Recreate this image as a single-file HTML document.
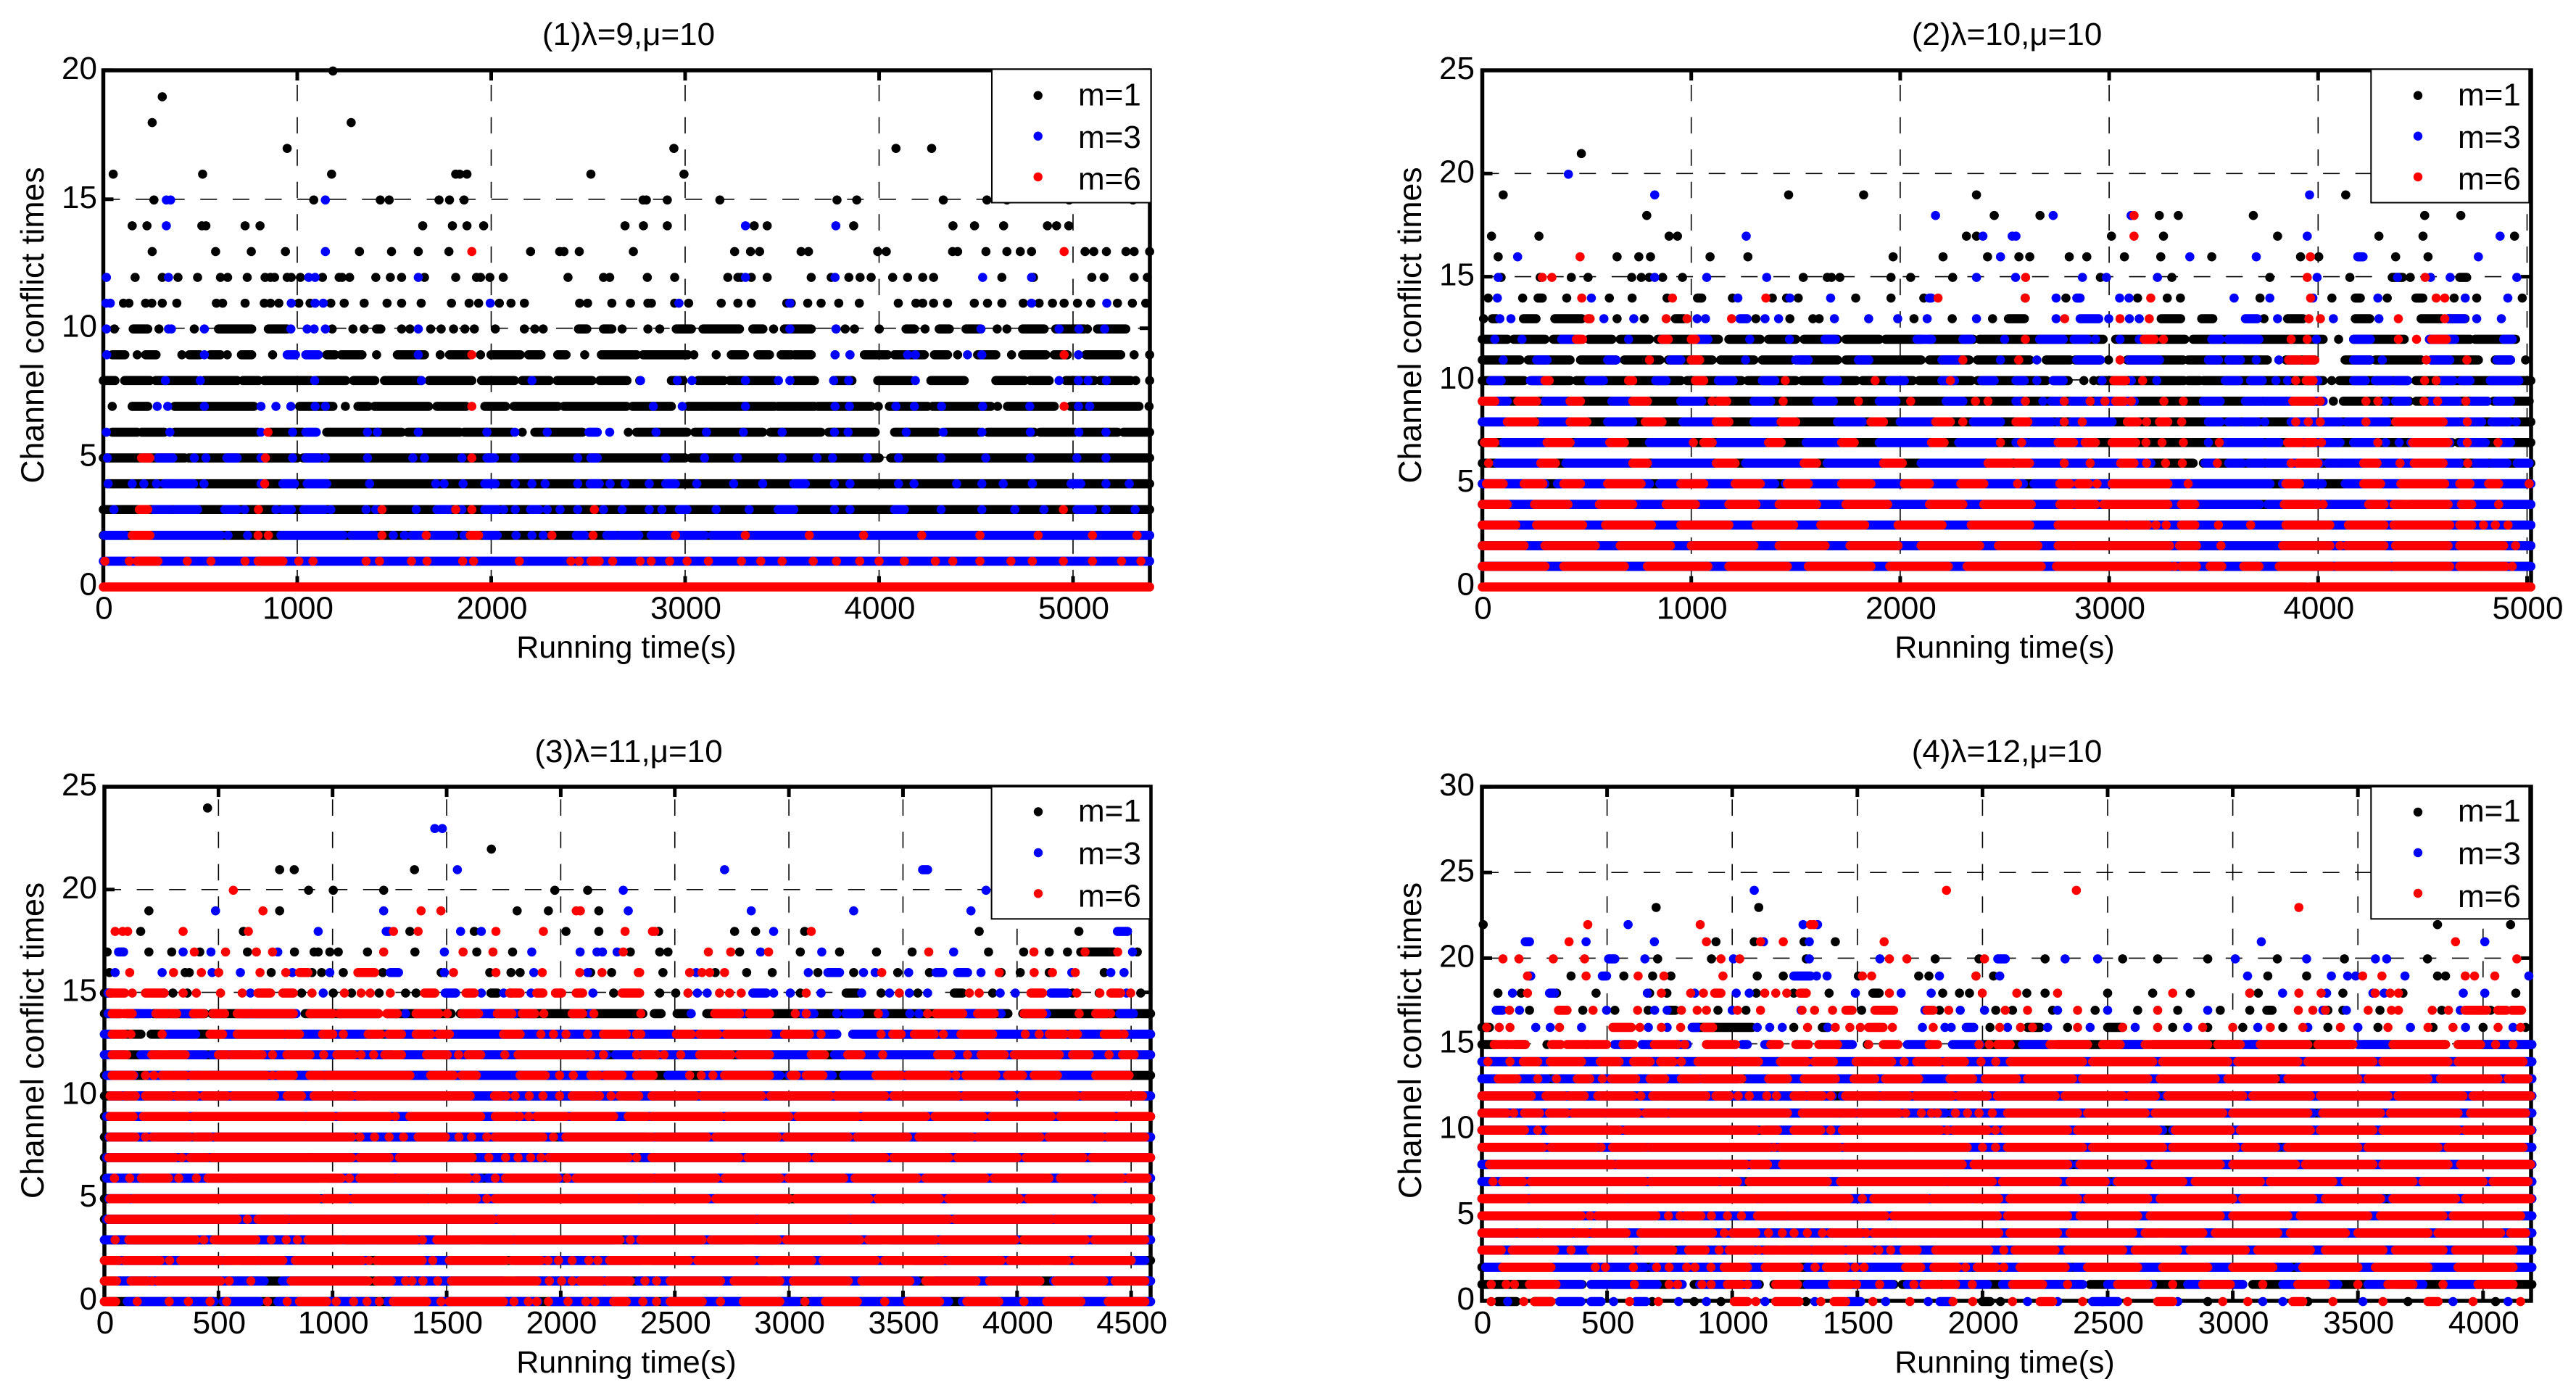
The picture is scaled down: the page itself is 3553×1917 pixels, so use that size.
<!DOCTYPE html>
<html lang="en">
<head>
<meta charset="utf-8">
<title>Channel conflict times</title>
<style>
html,body{margin:0;padding:0;background:#fff;}
svg{display:block;}
text{font-family:"Liberation Sans","DejaVu Sans",sans-serif;font-size:44px;fill:#000;}
</style>
</head>
<body>
<svg id="figure" xmlns="http://www.w3.org/2000/svg" width="3553" height="1917" viewBox="0 0 3553 1917">
<rect x="0" y="0" width="3553" height="1917" fill="#fff"/>

<g id="panel1">
  <g id="panel1-axes"></g>
  <g id="panel1-marks"></g>
  <text x="867" y="62" text-anchor="middle">(1)λ=9,μ=10</text>
  <text x="864" y="907" text-anchor="middle" style="font-size:43px">Running time(s)</text>
  <text transform="translate(60 448.5) rotate(-90)" text-anchor="middle" style="font-size:44.6px">Channel conflict times</text>
  <g>
    <rect x="1368" y="95.5" width="219.5" height="184" fill="#fff" stroke="#000" stroke-width="2"/>
    <circle cx="1431.7" cy="131.7" r="6.2" fill="#000"/>
    <text x="1487" y="145.7">m=1</text>
    <circle cx="1431.7" cy="187.7" r="6.2" fill="#00f"/>
    <text x="1487" y="204">m=3</text>
    <circle cx="1431.7" cy="244" r="6.2" fill="#f00"/>
    <text x="1487" y="261.7">m=6</text>
  </g>
</g>

<g id="panel2">
  <g id="panel2-axes"></g>
  <g id="panel2-marks"></g>
  <text x="2768" y="62" text-anchor="middle">(2)λ=10,μ=10</text>
  <text x="2765" y="907" text-anchor="middle" style="font-size:43px">Running time(s)</text>
  <text transform="translate(1960 448.5) rotate(-90)" text-anchor="middle" style="font-size:44.6px">Channel conflict times</text>
  <g>
    <rect x="3270.3" y="95.5" width="218" height="184" fill="#fff" stroke="#000" stroke-width="2"/>
    <circle cx="3335" cy="131.7" r="6.2" fill="#000"/>
    <text x="3390" y="145.7">m=1</text>
    <circle cx="3335" cy="187.7" r="6.2" fill="#00f"/>
    <text x="3390" y="204">m=3</text>
    <circle cx="3335" cy="244" r="6.2" fill="#f00"/>
    <text x="3390" y="261.7">m=6</text>
  </g>
</g>

<g id="panel3">
  <g id="panel3-axes"></g>
  <g id="panel3-marks"></g>
  <text x="867" y="1051" text-anchor="middle">(3)λ=11,μ=10</text>
  <text x="864" y="1893" text-anchor="middle" style="font-size:43px">Running time(s)</text>
  <text transform="translate(60 1435) rotate(-90)" text-anchor="middle" style="font-size:44.6px">Channel conflict times</text>
  <g>
    <rect x="1367.6" y="1085" width="218.6" height="182.3" fill="#fff" stroke="#000" stroke-width="2"/>
    <circle cx="1432" cy="1119.5" r="6.2" fill="#000"/>
    <text x="1487" y="1133">m=1</text>
    <circle cx="1432" cy="1176" r="6.2" fill="#00f"/>
    <text x="1487" y="1192">m=3</text>
    <circle cx="1432" cy="1232.3" r="6.2" fill="#f00"/>
    <text x="1487" y="1250.7">m=6</text>
  </g>
</g>

<g id="panel4">
  <g id="panel4-axes"></g>
  <g id="panel4-marks"></g>
  <text x="2768" y="1051" text-anchor="middle">(4)λ=12,μ=10</text>
  <text x="2765" y="1893" text-anchor="middle" style="font-size:43px">Running time(s)</text>
  <text transform="translate(1960 1435) rotate(-90)" text-anchor="middle" style="font-size:44.6px">Channel conflict times</text>
  <g>
    <rect x="3270.3" y="1085" width="218" height="182.3" fill="#fff" stroke="#000" stroke-width="2"/>
    <circle cx="3335" cy="1120" r="6.2" fill="#000"/>
    <text x="3390" y="1133">m=1</text>
    <circle cx="3335" cy="1176" r="6.2" fill="#00f"/>
    <text x="3390" y="1192">m=3</text>
    <circle cx="3335" cy="1232" r="6.2" fill="#f00"/>
    <text x="3390" y="1251">m=6</text>
  </g>
</g>
</svg>

<script>
/* Row format: [conflict count, [running times]]. A number is one point;
   a pair [from, to] is a stretch of time where the points overlap solidly. */

const p1XTicks = [0,1000,2000,3000,4000,5000];
const p1YTicks = [0,5,10,15,20];
const p2XTicks = [0,1000,2000,3000,4000,5000];
const p2YTicks = [0,5,10,15,20,25];
const p3XTicks = [0,500,1000,1500,2000,2500,3000,3500,4000,4500];
const p3YTicks = [0,5,10,15,20,25];
const p4XTicks = [0,500,1000,1500,2000,2500,3000,3500,4000];
const p4YTicks = [0,5,10,15,20,25,30];

const p1M1 = [
[20,[1184]],[19,[304]],[18,[252,1278]],[17,[948,2942,4087,4271]],
[16,[51,512,1177,1817,1838,1875,2514,2994]],
[15,[261,1085,1428,1474,1731,1785,1860,2783,2800,2908,3179,3783,3885,4331,4556,4659,4980,5309]],
[14,[149,225,508,529,731,808,1647,1800,1875,1961,2690,2785,2908,3356,3423,3869,4381,4492,4642,4868,4915,4978]],
[13,[252,579,763,939,1321,1486,1624,1782,2203,2353,2375,2454,2733,3255,3337,3384,3598,3636,3993,4037,4379,4405,4551,4659,4728,4786,5062,5107,5172,5273,5315,5395]],
[12,[164,304,385,486,604,641,742,834,862,883,948,969,1016,1130,1216,1231,1270,1405,1480,1538,1656,1817,1924,1945,1993,2062,2396,2579,2611,2805,2946,3220,3272,3289,3341,3423,3650,3753,3844,3902,3959,4070,4147,4225,4281,4633,4796,5097,5160,5315,5383]],
[11,[104,132,218,250,304,379,583,615,731,830,862,905,1008,1066,1173,1242,1345,1463,1538,1639,1795,1886,1935,2042,2102,2171,2456,2497,2622,2718,2808,2826,2946,3018,3186,3272,3341,3524,3547,3632,3701,3792,3898,4099,4190,4225,4281,4353,4491,4559,4633,4743,4825,4894,4954,5023,5091,5229,5306,5375]],
[10,[57,[154,229],287,469,[594,765],[851,948],1180,1287,1345,[1409,1431],1538,1581,1688,1742,1806,1864,1913,2021,2171,2225,2268,[2450,2493],[2579,2622],2675,2808,2869,[2954,3032],[3092,3280],[3349,3401],3456,[3512,3650],3778,3825,3873,4001,[4139,4182],4237,[4310,4362],[4448,4525],4609,4659,[4740,4851],[4911,5057],5074,[5126,5272]]],
[9,[[46,111],175,[218,272],405,[443,497],[551,604],639,[712,765],873,[1152,1195],[1227,1334],1409,[1516,1656],1737,[1785,1892],1945,[1999,2150],[2192,2257],[2343,2386],2482,[2568,2750],[2783,3014],3045,3160,[3238,3306],[3375,3435],[3495,3547],[3564,3650],3773,3850,[3924,4044],[4079,4233],[4285,4353],4405,[4508,4602],4683,[4740,4860],[4903,4971],[5066,5246],5315,5395]],
[8,[[0,60],[110,240],[270,480],[520,690],[720,800],[830,1070],[1100,1250],[1290,1400],[1450,1640],[1680,1900],[1950,2120],[2160,2300],[2340,2520],[2560,2700],2766,[2929,2989],[3066,3200],[3230,3461],[3564,3667],[3766,3860],[3993,4164],[4267,4439],[4602,4750],[4780,4877],[4963,5110],[5140,5297],5323,5395]],
[7,[46,[149,229],[368,776],[1012,1184],1248,[1313,1366],[1398,1677],[1720,1870],[1967,2074],[2117,2343],[2375,2697],[2729,2929],[3014,3117],[3126,3461],[3478,3572],[3581,3667],[3684,3959],3996,[4053,4250],[4276,4473],[4482,4576],4611,[4662,4903],[4988,5229],[5237,5340],5392]],
[6,[[46,175],[197,315],[368,798],[860,1030],[1152,1538],[1570,1838],[1860,2107],2160,[2225,2471],2707,[2750,3010],[3050,3400],[3440,3700],[3740,3980],[4080,4300],[4340,4520],[4560,4800],[4830,5010],[5040,5230],[5260,5395]]],
[5,[[0,420],[440,1000],[1030,2000],[2030,3000],[3030,4000],[4060,5395]]],
[4,[[20,5395]]],
[3,[[0,5395]]],
[2,[[0,5395]]]
];
const p1M3 = [
[15,[325,347,1145]],[14,[325,3311,3777]],[13,[1145]],
[12,[16,336,1059,1092,1624,3311,3773,4534,4786]],
[11,[14,36,969,1092,1134,1995,2968,3540,4786,5174]],
[10,[16,336,351,521,967,1051,1087,1145,1624,3540,3778,4525,4928,5031,5163]],
[9,[18,521,[948,991],[1044,1109],1624,3773,3850,4147,4187,4456,4530,5028]],
[8,[320,500,1090,1640,2210,2770,2960,3035,3311,3481,3540,3766,3843,4187,4928,5028,5078,5172]],
[7,[278,332,521,813,890,967,1092,1145,2836,2985,3311,3773,3847,4087,4182,4322,4534,4777,5028,5086]],
[6,[16,343,813,976,[1044,1098],1362,1413,1624,1978,2122,2289,[2504,2547],2611,2850,3110,3300,3500,3770,3840,4140,4330,4530,4780,5030,5170]],
[5,[21,[282,358],469,529,[637,690],813,976,[1044,1109],1145,1362,1596,1656,1849,[1978,2016],2122,2446,[2514,2547],2900,3100,3270,3500,3680,3760,3940,4100,4320,4550,4780,5020,5170]],
[4,[25,149,209,274,[315,379],[390,465],519,813,[926,986],[1051,1152],1373,1714,1757,1855,[1967,2021],2124,2210,2278,2446,[2510,2557],2613,2690,2815,[2900,2950],3060,3250,3400,[3560,3620],3770,3850,4100,4180,4400,4530,4640,4790,[4990,5040],5170,5290]],
[3,[55,[261,347],[368,486],[626,690],729,890,[926,969],[1034,1141],1173,1355,1405,1613,[1720,1785],1849,[1967,2031],2064,2124,[2203,2246],2289,2355,2446,2579,2675,2815,2880,[2970,3010],3160,3330,[3480,3560],3770,3850,[4080,4130],4320,4530,4700,4850,[5020,5100],5170,5320]],
[2,[[4,111],[240,604],643,744,[916,1237],[1280,1398],1495,1553,[1592,1645],[1699,1806],1860,[1967,2031],2128,2210,2268,[2439,2482],[2596,2643],[2665,2761],[2825,3100],[3140,3300],[3340,3620],[3660,3900],[3940,4200],[4240,4500],[4540,4800],[4840,5395]]],
[1,[[0,5395]]]
];
const p1M6 = [
[13,[1900,4954]],[9,[1900,4954]],[7,[1900,4954]],[6,[849]],
[5,[[197,240],836,1900]],[4,[832]],
[3,[[186,229],800,1437,1817,1900,2532,4950]],
[2,[[149,240],798,851,1437,1665,[1892,1935],2313,2525,2950,3310,3640,3920,4220,4520,4820,5100,5330]],
[1,[8,134,[175,282],433,555,731,[798,926],1008,1081,1355,1424,1589,1669,1853,1909,2145,2411,2454,[2514,2557],2626,2768,2825,2920,3010,3120,3290,3390,3500,3660,3780,3900,4000,4130,4290,4380,4520,4680,4790,4950,5100,5250,5350]],
[0,[[0,5395]]]
];

const p2M1 = [
[21,[474]],[19,[100,1466,1825,2365,4132]],[18,[787,2450,2669,3331,3690,4510,4683,3240]],
[17,[44,271,894,934,2317,2365,3011,3260,3806,4291,4502,4940]],
[16,[76,645,749,805,1090,1271,1966,2205,2418,2568,2620,2809,2893,3073,3247,3491,3916,4003,4371,4526]],
[15,[90,277,426,506,715,761,799,863,958,1536,1651,1671,1711,1956,2050,2251,2958,3300,3769,4152,[4355,4404],4441,[4678,4711]]],
[14,[28,193,[267,287],404,608,717,884,[1030,1050],1197,1388,1456,1512,1787,1956,2113,2598,2793,3136,3278,3341,3722,4066,[4178,4202],4331,[4468,4501],4651,4759,4977]],
[13,[6,[48,68],[197,257],[347,476],645,775,[924,964],1309,1472,1582,1612,2066,2249,2442,[2518,2594],[3249,3342],[3443,3496],3741,[3854,3927],[4178,4247],[4493,4590],[4622,4703]]],
[12,[[0,120],[150,300],[340,470],[510,620],[660,800],[840,1130],[1180,1330],[1370,1500],[1540,1700],[1740,1900],[1930,2100],[2140,2350],[2380,2971],[3031,3362],[3402,4024],4098,[4170,4412],[4533,4727],[4751,4945]]],
[11,[[0,180],[220,420],[470,640],[680,850],[890,1100],[1140,1300],[1340,1480],[1520,1700],[1740,2100],[2140,2330],[2370,2620],[2699,2812],[2837,2958],2997,[3087,3354],[3378,3757],[3846,3984],[4129,4250],[4274,4493],[4541,4767],[4848,4921],4993]],
[10,[[0,200],[240,420],[450,700],[730,950],[980,1240],[1270,1500],[1530,1790],[1820,2060],[2090,2340],[2370,2699],[2732,2804],2879,2926,[2950,3358],[3378,3434],[3451,4024],4065,[4102,4428],[4468,5018]]],
[9,[[0,4024],4073,[4121,4436],[4470,4810],[4840,5010]]],
[8,[[0,5018]]],
[7,[[0,3960],[3990,4640],[4670,5018]]],
[6,[[0,3402],[3451,5018]]],
[5,[[0,5018]]],[4,[[0,5018]]],[3,[[0,5018]]],[2,[[0,5018]]],[1,[[0,5018]]]
];
const p2M3 = [
[20,[412]],[19,[825,3959]],[18,[2169,2732,3105]],
[17,[1263,2396,2536,2554,3948,4871]],
[16,[169,2480,3386,3704,[4190,4215],4767]],
[15,[76,825,1074,1361,2365,2552,2872,2987,3231,3995,4380,4538,4632,4951]],
[14,[72,522,1223,1472,1667,[2139,2149],2746,[2845,2861],3050,3095,3598,3769,3975,4286,4704,4908]],
[13,[84,137,582,725,1028,1068,[1233,1267],1353,1418,1685,1849,1988,2129,2365,2746,[2861,2950],2998,3097,3144,[3652,3709],3806,4073,4291,[4622,4700],4759,4877]],
[12,[60,190,[380,430],700,860,[1030,1080],1280,1470,[1640,1690],[2080,2150],[2300,2340],2500,[2667,2780],[2832,2896],2935,3052,3144,[3491,3531],[3572,3628],[3644,3717],3992,[4170,4250],[4533,4654],[4888,4929]]],
[11,[100,[260,310],[600,640],[900,950],1260,[1500,1560],[1800,1850],[2200,2280],2480,2654,[2845,2958],[3095,3241],[3475,3523],[3572,3628],3704,3812,[4170,4247],4307,[4541,4630],[4856,4921]]],
[10,[[40,90],[230,280],[510,580],[830,880],[1130,1200],[1340,1400],[1650,1700],[1950,2020],[2200,2260],[2390,2450],[2554,2594],2654,[2732,2780],2966,3106,3228,[3556,3620],[3677,3733],3798,3854,3999,[4170,4226],[4274,4347],[4371,4428],[4593,4646],[4686,4727],[4824,4961]]],
[9,[[60,120],[300,400],[620,700],[950,1050],[1300,1380],[1600,1680],[1900,1980],[2220,2300],[2554,2575],2683,[2724,2772],[2820,2901],[2940,3120],[3451,3531],[3652,3725],[3741,3871],[3976,4024],4323,[4371,4428],[4541,4670],[4735,4808],[4856,4921]]],
[8,[[0,110],[280,400],[600,720],[960,1100],[1300,1400],[1700,1820],[2000,2150],[2350,2480],[2635,2724],2754,[2821,3014],[3475,3531],[3572,3620],[3644,3709],3745,[3871,4105],[4137,4331],[4606,4670],[4694,4783],[4832,4912],4948]],
[7,[[100,300],[450,600],[800,1000],[1130,1350],[1550,1700],[1900,2130],[2280,2450],[2554,2602],[2627,2716],[2740,2934],3475,[3556,3733],[3757,3814],[3927,4105],[4170,4266],4323,4388,[4444,4630],[4686,4800],[4864,4921]]],
[6,[[70,270],[400,700],[820,1100],[1260,1530],[1650,1900],[2100,2400],[2627,2764],[2796,2893],[2934,3200],[3459,3499],[3572,3636],[3669,3733],[3757,4008],[4048,4105],[4121,4428],[4444,4678],[4751,4808],[4832,4904],[4953,5010]]],
[5,[[0,300],[360,800],[850,1400],[1450,2000],[2060,2590],[2640,3770],[3830,3900],[3940,4020],[4130,5018]]],
[4,[[0,3720],[3760,4400],[4440,5018]]],
[3,[[0,5018]]],[2,[[0,5018]]],[1,[[0,5018]]]
];
const p2M6 = [
[18,[3119]],[17,[3119]],[16,[468,3963]],
[15,[287,333,2600,3948,4512]],
[14,[476,910,1357,2181,2599,3199,3964,4565,4606]],
[13,[[506,516],880,980,1193,2787,3052,3192,3956,4011,4384,4606]],
[12,[[450,480],[860,890],[1000,1020],2599,[3168,3216],3260,3871,3948,4384,4471,[4544,4614]]],
[11,[800,[1000,1040],2300,2567,3052,[3859,3911],[3935,3984],4518,4712]],
[10,[[300,320],[700,720],[1020,1060],1450,1880,2240,[3022,3079],3160,3893,[3943,3976],4510,4565]],
[9,[[0,60],[170,260],[420,470],[720,790],1100,[1130,1170],1440,1800,2050,2360,2420,2599,2785,2909,2980,[3031,3071],3106,3262,3355,[3879,3976],4010,4229,4286,4507,4572,4707]],
[8,[[120,250],[420,500],[780,860],[1120,1180],[1430,1500],[1860,1920],[2170,2240],2300,[2554,2611],2785,2871,[3087,3136],3179,[3241,3281],3347,3893,3953,4010,4229,[4371,4598],4714]],
[7,[[10,60],[310,420],[610,680],1010,[1060,1100],[1370,1430],[1720,1780],[2150,2210],2480,2581,[2756,2829],[2885,2934],[3014,3127],3176,3253,3355,3527,[3854,3919],[3943,3984],4016,4286,[4452,4622],4714,4861]],
[6,[30,[280,350],[720,790],[1120,1210],[1540,1600],[1920,2010],[2420,2530],[2554,2619],2785,2909,[3055,3119],3179,3270,3350,3518,3871,[3903,3999],[4218,4282],4392,[4460,4598],4716]],
[5,[[20,100],[200,290],[390,470],[600,760],[950,1060],[1210,1330],[1460,1560],[1720,1860],[2020,2140],[2290,2400],2562,[2764,2812],[2853,2901],2942,[3014,3281],3378,[3846,3911],[4218,4299],[4396,4606],[4678,4727],[4816,4864],5010]],
[4,[[0,120],[250,410],[560,720],[880,1020],[1180,1310],[1420,1600],[1740,1940],[2140,2300],[2400,2627],[2764,2821],[2845,2934],[2974,3281],[3346,3410],[3838,3999],4024,[4242,4315],[4363,4622],[4686,4735],4864]],
[3,[[0,160],[260,480],[590,810],[950,1180],[1310,1490],[1620,1830],[1990,2200],[2340,2620],[2756,3071],[3095,3184],3224,3273,[3346,3410],3523,3677,[3846,4056],[4145,4315],[4363,4630],[4678,4735],4791,4848,4909]],
[2,[[0,200],[300,540],[660,900],[1000,1300],[1420,1640],[1760,1990],[2100,2380],[2470,2659],[2756,2821],[2837,3289],[3337,3418],3535,[3830,4056],4105,[4137,4315],[4371,4622],[4678,4888],4945]],
[1,[[0,300],[390,680],[790,1080],[1180,1460],[1560,1860],[1950,2230],[2320,2675],[2748,3289],3313,[3346,3418],[3483,3539],[3644,3717],[3814,4065],[4089,4339],[4363,4630],[4678,4896],4929]],
[0,[[0,3945],[3960,5018]]]
];

const p3M1 = [
[24,[452]],[22,[1696]],[21,[768,832,1359]],[20,[895,1003,1224,1974,2118]],
[19,[195,768,1809,1946,2167]],
[18,[159,609,1339,1621,2023,2167,2429,2762,2854,3069,3834,4271]],
[17,[12,195,295,418,627,833,919,937,988,1025,1153,1361,1632,1789,2305,2434,2470,2784,3050,3222,3384,3540,3875,4029,4141,4221,[4279,4425],4527]],
[16,[22,354,372,731,910,952,1047,1220,1476,1689,1782,1822,2131,2223,2448,2677,2815,2927,3127,3284,3477,3616,3930,4014,4141,4382]],
[15,[[0,30],300,363,864,1003,1083,1204,1320,1366,[1694,1722],1780,2000,2232,2434,2504,2558,3050,[3251,3302],3404,3565,[3725,3761],3893,4243,4360,4542]],
[14,[[0,70],[100,150],[215,440],[470,830],[880,1200],[1240,1520],[1560,1630],[1690,2360],[2410,2440],[2510,2570],[2640,3960],[4025,4585]]],
[13,[[0,160],[205,3210],[3280,4585]]],
[12,[[0,4585]]],[11,[[0,4585]]],[10,[[0,4585]]],[9,[[0,4585]]],[8,[[0,4585]]],[7,[[0,4585]]],
[6,[[0,4585]]],[5,[[0,4585]]],[4,[[0,4585]]],[3,[[0,4585]]],[2,[[0,4585]]],[1,[[0,4585]]],[0,[[0,4585]]]
];
const p3M3 = [
[23,[1448,1481]],[21,[1547,2718,[3586,3608]]],[20,[2274,3864]],
[19,[487,1224,2296,2835,3284,3798]],
[18,[937,[1235,1247],1561,1652,2933,[4440,4484]]],
[17,[[62,84],345,467,760,1490,1873,2085,2159,2183,2247,2876,3144,3722,4506]],
[16,[47,253,472,596,824,988,[1253,1289],1490,1882,2118,2594,3085,[3171,3222],3327,3378,3525,[3645,3674],[3740,3783],3842,4240,4411,4469]],
[15,[16,262,640,959,[1494,1539],1652,1750,1870,2141,2599,2642,[2842,2901],2933,3006,3141,3319,3441,3528,3608,3926,3992,[4148,4221],4480]],
[14,[16,[130,200],[340,400],[600,840],1240,1320,[1640,1700],1800,1880,2130,2572,2800,[3060,3110],3210,[3250,3310],3420,3530,3570,[3780,3830],3930,4130,[4450,4510]]],
[13,[[0,30],[270,400],[520,1200],[1240,3210],[3280,4585]]],
[12,[[0,90],[160,240],[280,440],[470,640],[680,1260],[1300,2200],[2240,2400],[2430,2700],[2780,3080],[3200,4585]]],
[11,[[10,130],[200,280],[300,420],[460,800],[850,2120],[2160,2380],[2470,2560],[2640,2960],3000,[3040,3190],[3240,4490]]],
[10,[[30,130],[150,1150],[1180,2240],[2280,4585]]],
[9,[[10,1160],[1190,2280],[2320,4585]]],
[8,[[20,130],[150,380],[410,1090],[1120,1960],[2000,2380],[2400,4585]]],
[7,[[10,1600],[1640,2330],[2360,4585]]],
[6,[[10,940],[980,1650],[1680,2000],[2040,4585]]],
[5,[[20,940],[960,1420],[1430,2990],[3050,4585]]],
[4,[[10,4585]]],
[3,[[0,80],[100,460],[500,1000],[1050,1600],[1660,2230],[2290,2800],[2860,3400],[3450,4000],[4050,4585]]],
[2,[[60,560],[600,1150],[1210,1750],[1800,2350],[2400,2930],[3000,3500],[3550,4100],[4160,4560]]],
[1,[[60,700],[780,1150],[1200,1750],[1800,2300],[2340,2900],[2960,3560],[3640,4100],[4160,4585]]],
[0,[[100,480],[520,680],[760,1180],[1240,1900],[1960,2400],[2450,3040],[3100,3700],[3760,4585]]]
];
const p3M6 = [
[20,[565]],[19,[695,1388,1475,2068,2086]],
[18,[47,80,102,345,631,1267,1375,1716,1924,2282,2402,2412,3098]],
[17,[394,531,666,737,1224,1572,1703,2274,2647,2745,2911,3613,4074,4298,4441]],
[16,[111,303,425,501,682,795,[855,892],[1111,1184],1530,1716,1919,2083,2181,2340,2346,2565,2619,2653,2718,3407,3922,4075,4155,4255]],
[15,[[25,89],122,[180,262],345,403,509,604,[673,728],[782,828],910,1052,1125,1165,1253,[1403,1448],[1585,1621],[1776,1822],[1895,1922],[1977,2004],[2068,2096],[2269,2342],2346,2558,2696,2740,2791,3076,3484,3791,3834,[4061,4112],4262,4363,[4411,4454],4498]],
[14,[[34,71],[84,122],[226,272],[290,317],[390,436],[476,509],527,[582,636],[651,700],[709,828],[901,1001],[1029,1101],[1111,1202],[1238,1284],[1366,1466],1503,[1567,1640],[1722,1786],[1831,1886],1926,[2050,2096],2145,2351,[2675,2726],[2740,2784],[2828,2915],3028,3076,3392,3608,[3645,3762],[3827,3900],[4031,4112],4272,[4345,4389],4410]],
[13,[[34,89],116,253,[463,518],[582,782],[800,855],[956,1001],1047,[1156,1211],[1247,1302],[1366,1430],[1466,1512],[1749,1822],1913,1968,2023,2118,[2187,2287],2333,2351,[2507,2572],[2609,2689],[2726,2908],[2981,3090],3141,3404,[3455,3492],[3550,3637],3677,[3754,3893],4036,4097,[4141,4207],[4236,4265],[4382,4447],4469]],
[12,[[34,98],[208,354],[500,536],[554,691],737,[800,901],961,[1019,1092],1125,1180,[1229,1302],[1412,1503],1552,[1594,1649],1755,[1813,2105],2132,2187,2333,[2361,2419],2453,2526,[2609,2747],[2784,2915],[3098,3156],[3258,3316],3411,[3652,3710],3783,[3842,3944],[3988,4068],[4075,4185],[4243,4316],4403,[4462,4513]]],
[11,[[34,126],180,217,[253,354],[381,709],737,[764,828],[901,956],[974,1339],[1430,1530],[1567,1630],[1822,1932],1995,2055,[2132,2168],[2196,2269],2333,[2339,2405],2565,2616,2667,[2718,2915],[3010,3032],[3076,3149],[3382,3426],[3441,3492],[3521,3637],[3645,3696],3732,[3776,3907],[3958,4024],[4075,4177],[4345,4491]]],
[10,[[25,71],[89,135],[180,290],[317,363],[380,400],[436,536],[563,746],[801,864],[919,1083],[1111,1603],[1710,1740],1760,1800,1862,1922,1995,[2050,2150],2170,2220,[2260,2342],[2400,2590],[2620,2880],[2920,3180],[3210,3420],[3460,3740],[3770,3980],[4020,4260],[4290,4550]]],
[9,[[25,126],[171,363],[390,873],[892,1001],[1029,1247],1275,[1339,1649],[1713,1795],1820,1860,[1895,2023],[2050,2232],[2296,2378],[2400,2700],[2730,3000],[3040,3300],[3330,3600],[3640,3850],[3890,4150],[4190,4420],[4450,4585]]],
[8,[[25,135],180,[213,372],[399,463],[490,1083],1120,1184,1248,1311,[1375,1494],1554,1609,1676,[1713,1776],[1785,1922],1968,[2023,2402],[2420,2640],[2680,2950],[2990,3260],[3300,3520],[3570,3800],[3830,4100],[4140,4370],[4400,4560]]],
[7,[[20,308],339,[377,450],[472,901],[910,1083],[1120,1248],[1293,1612],1685,1758,1813,1868,1913,[1950,2296],2333,[2400,2780],[2820,3080],[3120,3420],[3460,3700],[3740,4000],[4040,4290],[4330,4585]]],
[6,[44,111,[162,281],326,403,[454,563],[573,1038],1074,[1120,1266],[1284,1594],1630,1713,[1758,1986],2028,[2068,2402],[2420,2680],[2720,2960],[3000,3240],[3290,3560],[3600,3860],[3900,4140],[4190,4460],[4490,4570]]],
[5,[[25,107],[126,937],[965,1065],[1092,1412],[1430,1630],1676,[1713,1758],[1767,1913],[1922,2333],[2350,2640],[2680,3000],[3030,3350],[3390,3660],[3700,4010],[4050,4320],[4360,4585]]],
[4,[[20,582],627,[673,800],[819,965],[974,1703],[1731,2402],[2402,2850],[2870,3260],[3280,3700],[3730,4150],[4170,4585]]],
[3,[47,[107,399],436,[481,664],731,797,846,[892,1038],[1056,1165],[1174,1366],1394,[1457,1786],[1804,2260],2305,[2350,2620],[2660,2950],[2990,3310],[3350,3640],[3670,3990],[4030,4300],[4340,4560]]],
[2,[[0,62],[89,244],286,[335,509],[527,669],[682,782],[837,1129],1160,[1193,1393],1439,[1512,1758],[1785,1913],1945,1990,2050,2123,2163,[2214,2333],[2333,2560],[2600,2840],[2880,3100],[3150,3380],[3420,3670],[3700,3930],[3970,4220],[4260,4500]]],
[1,[[0,53],[117,189],208,[235,509],547,642,[819,1156],[1193,1257],1320,1348,1396,1461,[1521,1795],[1804,1895],1950,2004,2050,[2086,2178],[2205,2305],2369,2420,[2480,2700],[2760,2960],[3020,3260],[3320,3530],[3600,3820],[3880,4100],[4170,4380],[4430,4560]]],
[0,[[0,49],144,284,368,463,536,715,801,[855,974],1016,1092,1151,1205,[1266,1412],1475,[1512,1749],1795,1858,1895,1946,2032,2110,2150,[2232,2287],2360,2420,[2480,2620],2700,[2800,2960],3070,[3160,3300],3420,[3520,3660],[3780,3920],4030,[4130,4280],[4400,4560]]]
];

const p4M1 = [
[23,[696,1106]],[22,[5,3818,4110]],[21,[935,1088,1287,1412]],
[20,[702,917,1296,1811,1986,2250,2560,2700,2900,3178,3446,3778]],
[19,[190,356,567,682,755,1100,1204,1504,1745,1786,1974,2044,3140,3295,3818,3850]],
[18,[64,157,298,456,670,739,1096,1246,1387,[1562,1587],1841,1908,1948,2177,2250,2500,2680,2830,3068,3102,3440,3680,4131]],
[17,[190,403,531,664,[747,772],943,1055,1517,1828,2053,2120,2280,2450,2620,2780,2950,3068,[3136,3157],3380,3440,3588,3835,4030]],
[16,[[0,30],[840,1080],1246,[1360,1380],2030,[2180,2230],2340,[2500,2560],2760,2900,3040,3200,3380,3580,3800,4000,4170]],
[15,[[0,49],[132,173],260,420,640,900,1150,1460,1540,1790,[2000,2260],[2300,2640],[2680,3030],[3070,3480],[3520,3850],[3900,4195]]],
[14,[[0,4195]]],[13,[[0,4195]]],[12,[[0,4195]]],[11,[[0,4195]]],[10,[[0,4195]]],[9,[[0,4195]]],
[8,[[0,4195]]],[7,[[0,4195]]],[6,[[0,4195]]],[5,[[0,4195]]],[4,[[0,4195]]],[3,[[0,4195]]],[2,[[0,4195]]],
[1,[[0,400],[436,800],[848,1108],[1167,1646],[1680,2400],[2430,3040],[3080,3620],[3660,4195]]],
[0,[[63,137],[210,276],680,848,955,1294,[2000,2030],2072,2480,2900,3300,3700,4050]]
];
const p4M3 = [
[24,[1088]],[22,[584,1283,1341]],[21,[[173,190],416,689,1125,1308,3114,4007]],
[20,[[506,531],651,1005,1308,1590,[2061,2091],2330,2460,3010,3295,3570,3615]],
[19,[195,[481,498],[1246,1313],1337,1379,1828,2069,3059,3394,3459,3491,3688,4183]],
[18,[122,[270,290],661,850,1016,1068,1492,1675,1795,3199,3375,3560,3605,3921,4007]],
[17,[[57,82],150,498,690,740,1000,1275,1770,1911,2008,2300,2500,2900,3360,3454,3909,3990]],
[16,[69,215,273,398,665,740,[840,860],1100,1150,1200,1382,1760,1850,1875,[1935,1965],2100,2260,2430,2610,2820,3100,3300,3500,3710,3930,4120]],
[15,[100,[530,590],[640,680],[780,820],[1040,1060],[1130,1150],[1420,1480],[1700,1780],[1880,1990],[2160,2260],[2560,2640],[3040,3100],[3500,3620],[4000,4195]]],
[14,[[0,4195]]],[13,[[0,260],[290,1020],[1060,3170],[3200,4195]]],
[12,[[0,700],[730,1400],[1440,2700],[2730,4195]]],[11,[[0,1850],[1880,3320],[3350,4195]]],
[10,[[0,1100],[1130,2720],[2760,4195]]],[9,[[0,3180],[3210,4195]]],[8,[[0,2350],[2380,4195]]],
[7,[[0,1040],[1070,2500],[2530,4195]]],[6,[[0,3600],[3630,4195]]],[5,[[0,1920],[1950,4195]]],
[4,[[0,380],[410,2700],[2730,4195]]],[3,[[0,760],[790,1180],[1210,2620],[2650,4195]]],
[2,[[15,70],[260,650],[680,1260],[1300,1950],[1970,2350],[2370,2760],[2780,3230],[3260,3650],[3670,4195]]],
[1,[[300,396],[436,500],[520,700],[760,800],[870,1100],[1300,1390],[1460,1640],[1700,1780],[1900,2020],[2080,2400],[2500,2680],[2820,3040],[3200,3420],[3540,3760],[3860,4100]]],
[0,[103,[310,396],[436,476],526,[615,655],786,897,1131,1330,[1460,1513],1613,1783,[1830,1880],2180,2300,[2440,2540],2780,3120,3200,3520,3880,4100]]
];
const p4M6 = [
[24,[1856,2375]],[23,[3264]],[22,[423,872,1313,1326]],[21,[348,897,1113,1204,1607,3890]],
[20,[84,148,285,410,955,1030,1628,1698,2008,4135]],
[19,[182,416,624,727,963,1520,1557,1974,3519,3596,3929,3966,4047]],
[18,[182,717,834,885,[930,955],1130,1174,1218,[1271,1296],1628,1999,2137,2300,2760,3068,3264,3353,3569,3629,3662]],
[17,[110,[306,340],444,622,797,860,897,1021,1113,1279,1329,1401,[1454,1479],[1570,1645],[1778,1803],1865,2091,2180,2380,2700,3262,3320,3370,3541,3634,3662,3797,3862,[3928,4015],[4059,4093],[4115,4154]]],
[16,[19,69,112,310,[523,597],631,717,794,[889,922],1301,1412,1470,1512,[1545,1603],1640,1803,2069,2152,2200,2380,2560,2700,2880,3000,3150,3280,3430,3620,3780,3880,4060,4150]],
[15,[[49,123],[132,173],[278,315],[340,431],[440,498],[564,606],[689,780],810,[897,1013],[1154,1188],[1254,1304],[1346,1421],1545,[1604,1662],[1787,1820],1986,2027,[2061,2111],[2270,2420],[2480,2550],[2650,2900],[2940,3030],[3110,3300],[3340,3480],[3640,3850],[3900,3990],4050,4120]],
[14,[24,112,[165,223],[273,398],[473,548],[606,672],[714,764],797,[863,1005],[1021,1105],[1193,1296],[1329,1404],[1495,1570],[1579,1637],1687,[1737,1828],[1853,1928],1994,2053,[2111,2400],[2440,2680],[2720,2980],[3020,3260],[3300,3560],[3600,3860],[3900,4160]]],
[13,[[65,140],223,298,[381,431],481,[518,614],[672,730],[797,863],[880,1038],[1146,1221],[1288,1412],[1487,1570],[1612,1745],[1870,1961],[2011,2136],[2180,2360],[2400,2660],[2710,2930],[2980,3170],[3220,3500],[3540,3780],[3830,4060],[4100,4180]]],
[12,[[0,197],[256,330],[350,409],[463,602],635,[682,895],[935,988],1024,1068,1138,1177,[1247,1287],[1307,1360],1394,[1453,1580],[1600,1706],[1733,1879],[1906,2019],[2060,2290],[2330,2560],[2590,2690],[2740,3040],[3080,3310],[3350,3620],[3660,3920],[3960,4190]]],
[11,[[0,97],127,[170,230],[270,336],[365,489],[502,622],[655,735],[755,1221],[1280,1420],[1433,1487],[1507,1666],1693,1756,1796,1820,1892,1940,1986,2039,[2100,2380],[2420,2650],[2690,2960],[3000,3300],[3360,3590],[3630,3900],[3950,4170]]],
[10,[[0,170],223,[270,549],[576,1094],[1121,1181],[1247,1354],1394,[1440,1832],1860,[1886,2019],2052,[2090,2340],[2380,2700],[2770,2990],[3030,3310],[3350,3560],[3600,3900],[3930,4190]]],
[9,[[0,243],[276,456],476,[522,655],[669,1148],1167,[1194,1427],[1453,1719],[1726,1939],2000,2052,[2100,2400],[2440,2720],[2760,3010],[3050,3170],[3220,3500],[3540,3820],[3860,4160]]],
[8,[[30,250],[263,522],[542,948],[961,1054],[1081,1141],[1201,1434],[1447,1919],[1966,2340],[2390,2640],[2690,2950],[3000,3250],[3290,3560],[3600,3860],[3910,4190]]],
[7,[44,[83,163],[197,649],[675,941],[961,1021],[1068,1380],[1433,1600],[1606,1852],[1866,2039],[2080,2300],[2350,2490],[2540,2800],[2850,3110],[3150,3400],[3450,3720],[3760,4000],[4040,4180]]],
[6,[[0,177],[197,256],[263,576],[589,1094],[1108,1254],[1261,1467],1520,[1566,1779],[1799,1952],[1966,2065],[2110,2380],[2420,2660],[2710,3000],[3040,3320],[3370,3590],[3640,3890],[3930,4190]]],
[5,[[0,250],[256,396],432,[463,695],745,792,[815,875],917,981,1037,[1101,1214],[1227,1347],[1354,1527],[1540,1610],[1646,1826],[1832,2059],[2100,2340],[2390,2620],[2670,2950],[3000,3220],[3270,3540],[3590,3840],[3880,4150]]],
[4,[[0,130],[147,214],[230,356],[375,420],[443,576],[635,715],[722,921],968,[1001,1094],1145,1200,1247,1300,1360,[1394,1513],1535,[1566,1646],[1660,1806],[1813,2065],[2110,2300],[2350,2600],[2650,2880],[2930,3180],[3230,3450],[3500,3780],[3820,4070],[4110,4170]]],
[3,[[0,77],[121,290],356,[436,596],[635,762],[826,892],948,[988,1081],1105,[1134,1307],[1327,1440],[1467,1553],1586,1633,[1686,1739],[1813,2025],2085,[2130,2290],[2340,2560],[2610,2780],[2830,3050],[3100,3310],[3370,3600],[3650,3840],[3890,4120]]],
[2,[[83,276],453,493,605,698,748,818,851,915,[968,1061],[1132,1267],1331,[1376,1453],1491,1527,[1693,1753],[1806,1899],1932,[1979,2052],2085,[2150,2330],[2420,2620],[2720,2900],[3000,3160],[3280,3500],[3570,3780],[3900,4120]]],
[1,[37,97,130,[190,296],609,748,782,879,916,[981,1034],1061,[1174,1261],[1400,1473],1497,1589,1726,[1766,1826],[1846,1892],1959,[2120,2240],2340,[2540,2660],2760,[2880,2990],3120,[3260,3370],3500,[3620,3720],3840,[3980,4120]]],
[0,[37,167,[210,276],590,705,[1008,1061],1094,[1174,1267],1354,[1407,1453],1562,1710,1882,1961,2120,[2230,2280],2400,2580,[2700,2760],2960,3060,[3240,3280],3400,3600,[3780,3820],3960,4150]]
];

const panelIds = ['panel1','panel2','panel3','panel4'];
const panelFrames = [
  {x0:142.5, xUnit:0.2675, right:1586,  top:97,   y0:808.5, yUnit:35.58, labelRight:134},
  {x0:2044.5,xUnit:0.2882, right:3491,  top:97,   y0:808.5, yUnit:28.46, labelRight:2034},
  {x0:144,   xUnit:0.3147, right:1587,  top:1085, y0:1794,  yUnit:28.36, labelRight:134},
  {x0:2044,  xUnit:0.3452, right:3491,  top:1085, y0:1794,  yUnit:23.63, labelRight:2034}
];
const panelXTicks = [p1XTicks,p2XTicks,p3XTicks,p4XTicks];
const panelYTicks = [p1YTicks,p2YTicks,p3YTicks,p4YTicks];
const panelSeries = [[p1M1,p1M3,p1M6],[p2M1,p2M3,p2M6],[p3M1,p3M3,p3M6],[p4M1,p4M3,p4M6]];
const seriesNames = ['m1','m3','m6'];
const seriesColors = ['#000','#00f','#f00'];

const NS = 'http://www.w3.org/2000/svg';
const DOT_R = 6.3;
const MARK_DY = 1;

function segment(parent, x1, y1, x2, y2, width) {
  const el = document.createElementNS(NS, 'line');
  el.setAttribute('x1', x1);
  el.setAttribute('y1', y1);
  el.setAttribute('x2', x2);
  el.setAttribute('y2', y2);
  el.setAttribute('stroke', '#000');
  el.setAttribute('stroke-width', width);
  parent.appendChild(el);
  return el;
}

function label(parent, x, y, anchor, str) {
  const el = document.createElementNS(NS, 'text');
  el.setAttribute('x', x);
  el.setAttribute('y', y);
  el.setAttribute('text-anchor', anchor);
  el.textContent = str;
  parent.appendChild(el);
  return el;
}

panelIds.forEach(function (id, p) {
  const f = panelFrames[p];
  const xScale = function (v) { return f.x0 + v * f.xUnit; };
  const yScale = function (v) { return f.y0 - v * f.yUnit; };
  const axes = document.getElementById(id + '-axes');
  const marks = document.getElementById(id + '-marks');

  panelYTicks[p].forEach(function (v) {
    const y = yScale(v);
    if (v > 0 && y > f.top + 1) {
      const grid = segment(axes, f.x0, y, f.right, y, 1.6);
      grid.setAttribute('stroke-dasharray', '23 21.6');
      
      
    }
    const t1 = segment(axes, f.x0, y, f.x0 + 14, y, 5);
    
    
    const t2 = segment(axes, f.right, y, f.right - 14, y, 5);
    
    
    const tl = label(axes, f.labelRight, y + 12, 'end', String(v));
    
    
  });

  panelXTicks[p].forEach(function (v) {
    const x = xScale(v);
    if (v > 0) {
      const grid = segment(axes, x, f.y0, x, f.top, 1.6);
      grid.setAttribute('stroke-dasharray', '22.6 22');
      
      
    }
    const t1 = segment(axes, x, f.top, x, f.top + 14, 5);
    
    
    const t2 = segment(axes, x, f.y0, x, f.y0 - 14, 5);
    
    
    const tl = label(axes, x + 1, f.y0 + 45, 'middle', String(v));
    
    
  });

  const box = document.createElementNS(NS, 'rect');
  box.setAttribute('x', f.x0);
  box.setAttribute('y', f.top);
  box.setAttribute('width', f.right - f.x0);
  box.setAttribute('height', f.y0 - f.top);
  box.setAttribute('fill', 'none');
  box.setAttribute('stroke', '#000');
  box.setAttribute('stroke-width', 5.5);
  
  
  axes.appendChild(box);

  panelSeries[p].forEach(function (rows, s) {
    const g = document.createElementNS(NS, 'g');
    g.setAttribute('fill', seriesColors[s]);
    g.setAttribute('stroke', seriesColors[s]);
    
    
    rows.forEach(function (row) {
      const y = yScale(row[0]) + MARK_DY;
      row[1].forEach(function (item) {
        if (Array.isArray(item)) {
          const run = document.createElementNS(NS, 'line');
          run.setAttribute('x1', xScale(item[0]));
          run.setAttribute('x2', xScale(item[1]));
          run.setAttribute('y1', y);
          run.setAttribute('y2', y);
          run.setAttribute('stroke-width', DOT_R * 2);
          run.setAttribute('stroke-linecap', 'round');
          
          
          g.appendChild(run);
        } else {
          const dot = document.createElementNS(NS, 'circle');
          dot.setAttribute('cx', xScale(item));
          dot.setAttribute('cy', y);
          dot.setAttribute('r', DOT_R);
          dot.setAttribute('stroke', 'none');
          
          
          g.appendChild(dot);
        }
      });
    });
    marks.appendChild(g);
  });
});
</script>
</body>
</html>
